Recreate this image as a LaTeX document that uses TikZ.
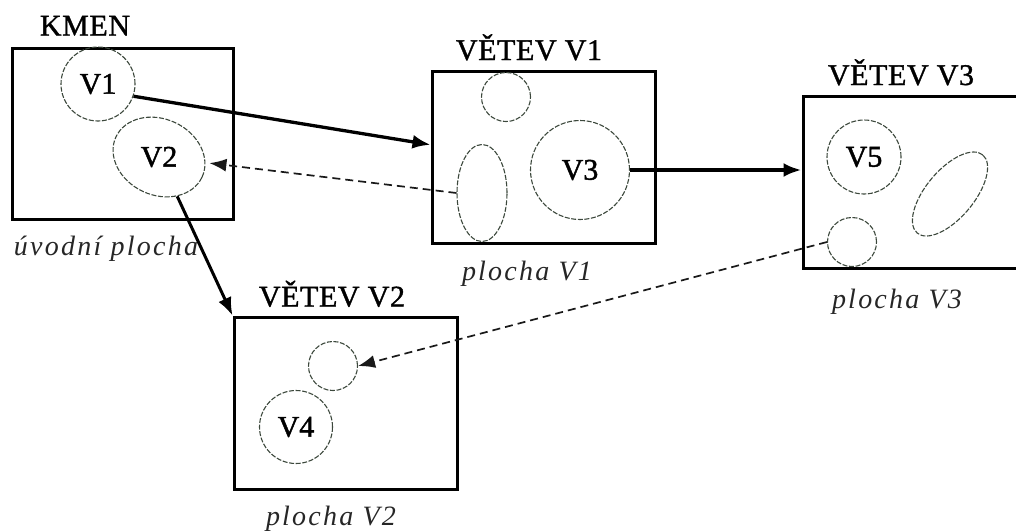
\documentclass[tikz,border=0pt]{standalone}
\usepackage{fontspec}
\setmainfont{Liberation Serif}
\newfontfamily\titfont{Liberation Serif}[LetterSpace=2,FakeBold=1.2]
\newfontfamily\vfont{Liberation Serif}[FakeBold=1.5]
\newfontfamily\labfont{Liberation Serif}[LetterSpace=8]
\usetikzlibrary{shapes.geometric,arrows.meta,calc}
\tikzset{
  planebox/.style={draw=black, line width=3pt, rectangle, inner sep=0pt},
  areashape/.style={draw={rgb,255:red,60;green,72;blue,60}, line width=1.1pt, dash pattern=on 5pt off 1.6pt, inner sep=0pt, font=\vfont\fontsize{30}{32}\selectfont},
  circ/.style={areashape, circle},
  ell/.style={areashape, ellipse},
  ttl/.style={anchor=base, font=\titfont\fontsize{30}{32}\selectfont},
  captxt/.style={anchor=base, font=\labfont\itshape\fontsize{28}{30}\selectfont, text=black!85},
  solidarr/.style={draw=black, line width=3pt, -{Latex[length=18pt,width=14pt]}},
  dasharr/.style={draw=black!90, line width=1.7pt, dash pattern=on 8pt off 5pt, -{Latex[length=17pt,width=13pt]}}
}
\begin{document}
\begin{tikzpicture}[x=1pt,y=-1pt]
\useasboundingbox (0,0) rectangle (1016,531);
% boxes
\node[planebox, minimum width=221pt, minimum height=171pt] (b0) at (122.5,133.5) {};
\node[planebox, minimum width=223pt, minimum height=172pt] (b1) at (543.5,157) {};
\node[planebox, minimum width=230pt, minimum height=172pt] (b3) at (918,182) {};
\node[planebox, minimum width=223pt, minimum height=172pt] (b2) at (345.5,403) {};
% titles
\node[ttl] (t0) at (85,35.5) {KMEN};
\node[ttl] (t1) at (529,60) {VĚTEV V1};
\node[ttl] (t3) at (901,85) {VĚTEV V3};
\node[ttl] (t2) at (332,306.5) {VĚTEV V2};
% captions
\node[captxt] (c0) at (106,255) {úvodní plocha};
\node[captxt] (c1) at (527,280) {plocha V1};
\node[captxt] (c3) at (897,308) {plocha V3};
\node[captxt] (c2) at (331,525) {plocha V2};
% areas in KMEN
\node[circ, minimum size=74pt] (V1) at (98,84) {V1};
\node[ell, minimum width=95pt, minimum height=76pt, rotate=-25] (V2) at (159,157) {\rotatebox{25}{V2}};
% areas in branch V1
\node[circ, minimum size=49pt] (s1) at (506,97) {};
\node[ell, minimum width=50pt, minimum height=97pt] (e1) at (482,193) {};
\node[circ, minimum size=99pt] (V3) at (580,170) {V3};
% areas in branch V3
\node[circ, minimum size=74pt] (V5) at (864,157) {V5};
\node[circ, minimum size=49pt] (s3) at (852,242) {};
\node[ell, minimum width=102pt, minimum height=48pt, rotate=50] (e3) at (950,194) {};
% areas in branch V2
\node[circ, minimum size=49pt] (s2) at (333,366) {};
\node[circ, minimum size=73pt] (V4) at (296,427) {V4};
% connectors
\coordinate (b1in) at ($(b1.north west)!0.43!(b1.south west)$);
\draw[solidarr, line width=3.3pt] (V1.-19) -- (b1in);
\draw[dasharr, shorten >=4pt] (e1.west) -- (V2);
\draw[solidarr] (V2) -- (b2.north west);
\draw[solidarr, line width=4.5pt] (V3.east) -- (V3.east -| b3.west);
\draw[dasharr] (s3.west) -- (s2.east);
\end{tikzpicture}
\end{document}
